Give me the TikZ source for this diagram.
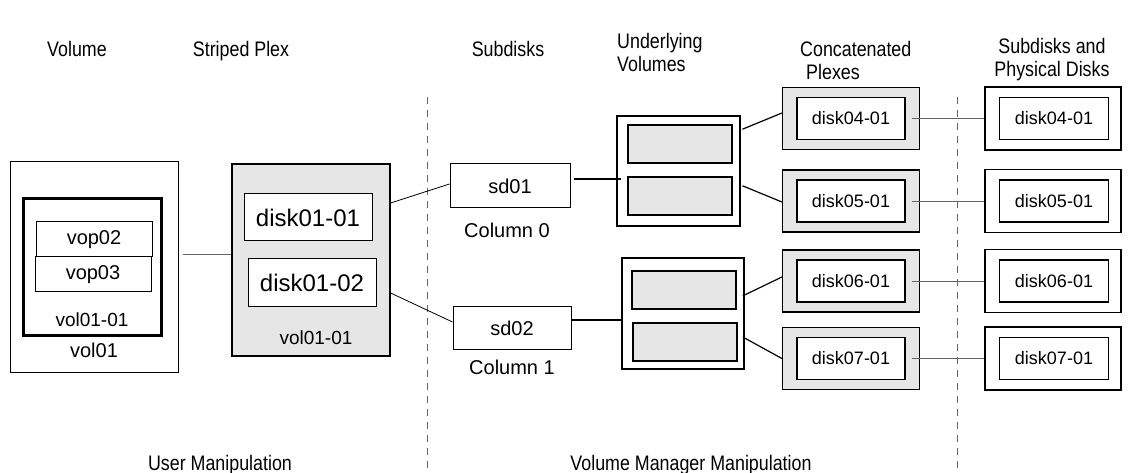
\documentclass[tikz,border=0pt]{standalone}
\usepackage{fontspec}
\setmainfont{Liberation Sans}
\newfontfamily\headfont[FakeStretch=0.85]{Liberation Sans}
\usetikzlibrary{calc}

\definecolor{boxgray}{RGB}{230,230,230}
\definecolor{linkgray}{RGB}{100,100,100}

\tikzset{
  box/.style={draw,line width=1.2pt,minimum width=#1,inner sep=0pt},
  gbox/.style={box=#1,fill=boxgray},
  head/.style={font=\headfont\fontsize{21}{23}\selectfont,inner sep=0pt},
  lbl/.style={font=\fontsize{#1}{#1}\selectfont,inner sep=0pt},
  link/.style={linkgray,line width=0.8pt},
  wire/.style={line width=1.2pt},
  divider/.style={linkgray,line width=0.6pt,dash pattern=on 7pt off 6pt}
}

\begin{document}
\begin{tikzpicture}[x=1pt,y=-1pt]
  \useasboundingbox (0,0) rectangle (1136,473);

  % column headings
  \node[head,anchor=base] (hvol) at (77,57) {Volume};
  \node[head,anchor=base] (hplex) at (241,57) {Striped Plex};
  \node[head,anchor=base] (hsd) at (508,57) {Subdisks};
  \node[head,align=left,anchor=west] (huv) at (617,52) {Underlying\\Volumes};
  \node[head,align=left,anchor=west] (hcat) at (800,60) {Concatenated\\\hspace*{6pt}Plexes};
  \node[head,align=center] (hphys) at (1052,60) {Subdisks and\\Physical Disks};

  % dividers
  \coordinate (top1) at (427,97);
  \coordinate (bot1) at (427,473);
  \coordinate (top2) at (957,97);
  \coordinate (bot2) at (957,473);
  \draw[divider] (top1) -- (bot1);
  \draw[divider] (top2) -- (bot2);

  % volume
  \node[box=168pt,minimum height=210pt,line width=1pt] (vol) at (94,267) {};
  \node[box=138pt,minimum height=136pt,line width=3pt] (volplex) at (92,267) {};
  \node[box=116pt,minimum height=35pt,line width=1pt,lbl=20] (vop2) at (94,239.5) {vop02};
  \node[box=116pt,minimum height=35pt,line width=1pt,lbl=20] (vop3) at (93,274.5) {vop03};
  \node[lbl=19] (lvolplex) at (92,320) {vol01-01};
  \node[lbl=20] (lvol) at (94,350) {vol01};

  % striped plex
  \node[gbox=158pt,minimum height=192pt] (splex) at (311,260) {};
  \node[box=128pt,minimum height=47pt,line width=1pt,fill=white,lbl=24] (d11) at (308,217.5) {disk01-01};
  \node[box=128pt,minimum height=48pt,line width=1pt,fill=white,lbl=24] (d12) at (312,283) {disk01-02};
  \node[lbl=19] (lsplex) at (316,338) {vol01-01};

  % subdisks
  \node[box=120pt,minimum height=44pt,line width=1pt,lbl=20] (sd1) at (510,186) {sd01};
  \node[lbl=20] (col0) at (507,230) {Column 0};
  \node[box=118pt,minimum height=42pt,line width=1pt,lbl=20] (sd2) at (512,328) {sd02};
  \node[lbl=20] (col1) at (512,367) {Column 1};

  % underlying volumes
  \node[box=123pt,minimum height=110pt] (uv1) at (678.5,171) {};
  \node[gbox=104pt,minimum height=38pt] (uv1a) at (680,144) {};
  \node[gbox=104pt,minimum height=38pt] (uv1b) at (680,196) {};
  \node[box=122pt,minimum height=111pt] (uv2) at (683,313.5) {};
  \node[gbox=104pt,minimum height=38pt] (uv2a) at (684,290) {};
  \node[gbox=104pt,minimum height=38pt] (uv2b) at (685,342) {};

  % concatenated plexes and physical disks
  \foreach \n/\yy in {04/118.5,05/201,06/281,07/358.5}{
    \node[gbox=137pt,minimum height=62pt] (cat\n) at (851,\yy) {};
    \node[box=108pt,minimum height=42pt,fill=white,lbl=18] (catin\n) at (851,\yy) {disk\n-01};
    \node[box=136pt,minimum height=63pt] (phys\n) at (1053,\yy) {};
    \node[box=109pt,minimum height=42pt,lbl=18] (physin\n) at (1054,\yy) {disk\n-01};
    \draw[link,shorten <=6pt] (catin\n) -- (phys\n);
  }

  % connectors
  \draw[link,shorten <=4pt] ([yshift=13pt]vol.east) -- ([yshift=6pt]splex.west);
  \draw[line width=0.8pt] ([yshift=57pt]splex.east) -- ([yshift=2pt]sd1.west);
  \draw[line width=0.8pt] ([yshift=-33pt]splex.east) -- ([yshift=6pt]sd2.west);
  \draw[wire,shorten <=3pt,shorten >=-5pt] ([yshift=7pt]sd1.east) -- ([yshift=-8pt]uv1.west);
  \draw[wire,shorten >=-2pt] ([yshift=8pt]sd2.east) -- ([yshift=-6.5pt]uv2.west);
  \draw[wire,shorten <=2pt] ([yshift=41pt]uv1.east) -- ([yshift=5.5pt]cat04.west);
  \draw[wire,shorten <=2pt] ([yshift=-14pt]uv1.east) -- ([yshift=-1pt]cat05.west);
  \draw[wire,shorten <=-2pt] ([yshift=18.5pt]uv2.east) -- ([yshift=4pt]cat06.west);
  \draw[wire,shorten <=-2pt] ([yshift=-24.5pt]uv2.east) -- (cat07.west);

  % bottom captions
  \node[head,anchor=base] (cuser) at (220,470) {User Manipulation};
  \node[head,anchor=base] (cvm) at (691,470) {Volume Manager Manipulation};
\end{tikzpicture}
\end{document}
